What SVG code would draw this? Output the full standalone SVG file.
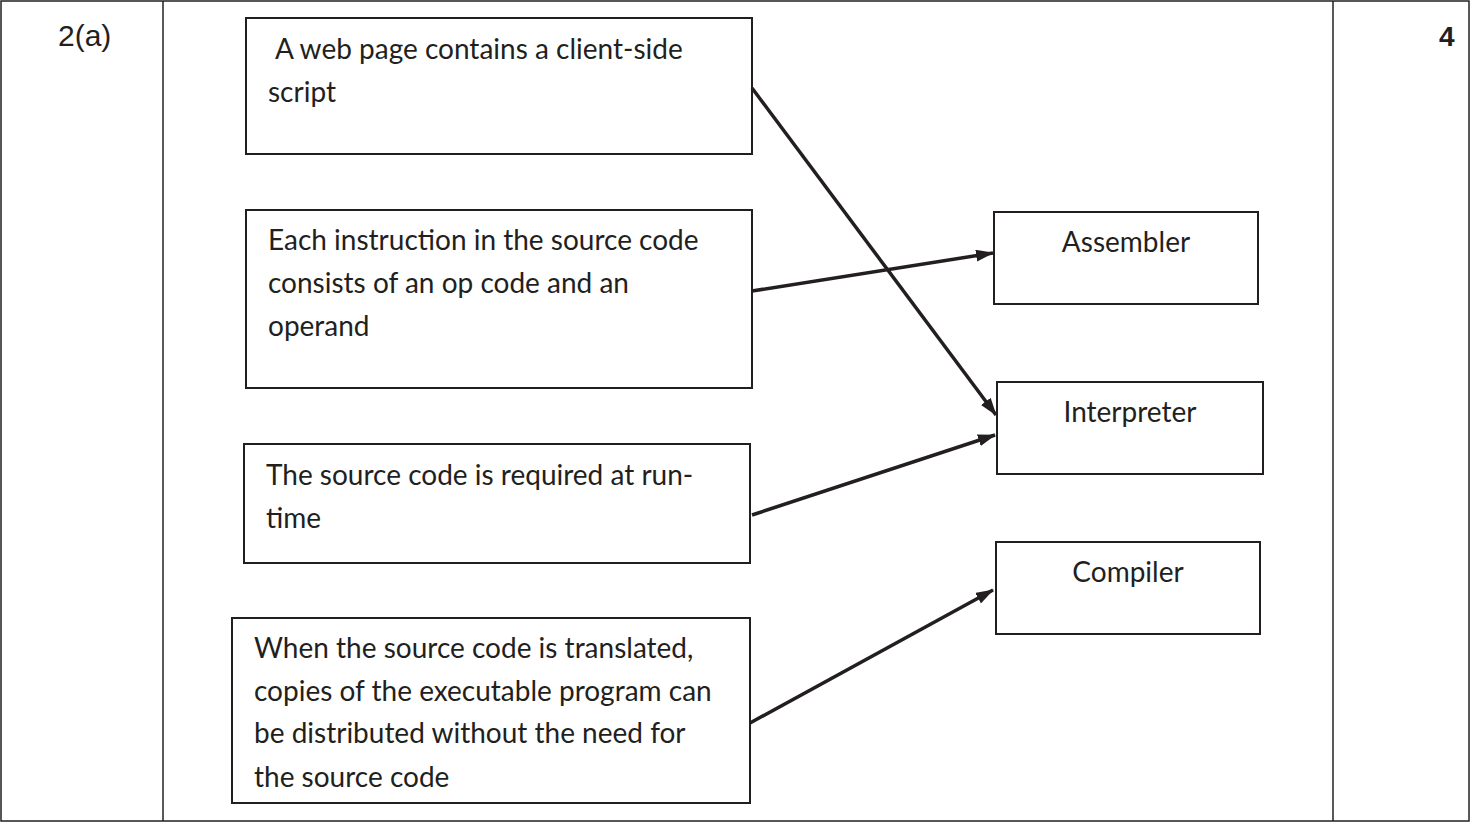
<svg xmlns="http://www.w3.org/2000/svg" width="1470" height="822" viewBox="0 0 1470 822">
<defs>
<marker id="ah" markerWidth="18" markerHeight="12" refX="17" refY="6" orient="auto" markerUnits="userSpaceOnUse" viewBox="0 0 18 12"><path d="M0,0 L18,6 L0,12 z" fill="#231f20"/></marker>
<style>
.b{fill:#fff;stroke:#231f20;stroke-width:2}
.t{font-family:Lato,"Open Sans",sans-serif;font-size:28px;fill:#231f20}
.c{stroke:#231f20;stroke-width:3.5;fill:none;marker-end:url(#ah)}
.g{stroke:#231f20;stroke-width:1.5;fill:none}
</style>
</defs>
<rect width="1470" height="822" fill="#fff"/>
<g id="table">
<rect x="1" y="1" width="1468" height="820" class="g"/>
<line x1="163" y1="1" x2="163" y2="821" class="g"/>
<line x1="1333" y1="1" x2="1333" y2="821" class="g"/>
<text x="58" y="46" font-family="Liberation Sans,Arial,sans-serif" font-size="30" fill="#231f20">2(a)</text>
<text x="1439" y="46" font-family="Liberation Sans,Arial,sans-serif" font-size="28" font-weight="bold" fill="#231f20">4</text>
</g>
<g id="s1"><rect x="246" y="18" width="506" height="136" class="b"/><text class="t" x="275" y="59">A web page contains a client-side</text><text class="t" x="268" y="102">script</text></g>
<g id="s2"><rect x="246" y="210" width="506" height="178" class="b"/><text class="t" x="268" y="250">Each instruction in the source code</text><text class="t" x="268" y="293">consists of an op code and an</text><text class="t" x="268" y="336">operand</text></g>
<g id="s3"><rect x="244" y="444" width="506" height="119" class="b"/><text class="t" x="266" y="485">The source code is required at run-</text><text class="t" x="266" y="528">time</text></g>
<g id="s4"><rect x="232" y="618" width="518" height="185" class="b"/><text class="t" x="254" y="658">When the source code is translated,</text><text class="t" x="254" y="701">copies of the executable program can</text><text class="t" x="254" y="743">be distributed without the need for</text><text class="t" x="254" y="787">the source code</text></g>
<g id="assembler"><rect x="994" y="212" width="264" height="92" class="b"/><text class="t" x="1126" y="252" text-anchor="middle">Assembler</text></g>
<g id="interpreter"><rect x="997" y="382" width="266" height="92" class="b"/><text class="t" x="1130" y="422" text-anchor="middle">Interpreter</text></g>
<g id="compiler"><rect x="996" y="542" width="264" height="92" class="b"/><text class="t" x="1128" y="582" text-anchor="middle">Compiler</text></g>
<g id="connectors">
<line x1="752" y1="88" x2="996" y2="415" class="c"/>
<line x1="752" y1="291" x2="993" y2="253" class="c"/>
<line x1="752" y1="515" x2="995" y2="435" class="c"/>
<line x1="750" y1="723" x2="993" y2="590" class="c"/>
</g>
</svg>
